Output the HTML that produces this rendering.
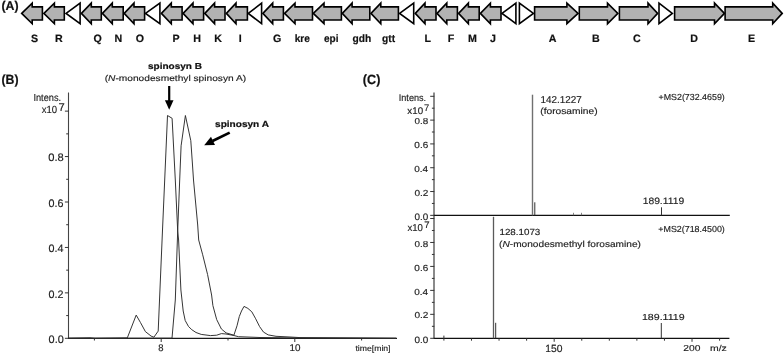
<!DOCTYPE html>
<html><head><meta charset="utf-8"><style>
html,body{margin:0;padding:0;background:#fff;}
body{width:784px;height:353px;overflow:hidden;}
svg{display:block;font-family:"Liberation Sans", sans-serif;text-rendering:geometricPrecision;}
</style></head><body>
<div style="will-change:transform;width:784px;height:353px"><svg width="784" height="353" viewBox="0 0 784 353">
<rect width="784" height="353" fill="#fff"/>
<polygon points="21.70,13.40 32.20,3.10 32.20,6.90 42.40,6.90 42.40,20.00 32.20,20.00 32.20,23.70" fill="#b2b2b2" stroke="#000" stroke-width="1.6" stroke-linejoin="miter"/>
<polygon points="43.90,13.40 54.40,3.10 54.40,6.90 64.30,6.90 64.30,20.00 54.40,20.00 54.40,23.70" fill="#b2b2b2" stroke="#000" stroke-width="1.6" stroke-linejoin="miter"/>
<polygon points="66.10,13.40 80.10,3.10 80.10,23.70" fill="#fff" stroke="#000" stroke-width="1.6" stroke-linejoin="miter"/>
<polygon points="81.40,13.40 91.30,3.10 91.30,6.90 101.30,6.90 101.30,20.00 91.30,20.00 91.30,23.70" fill="#b2b2b2" stroke="#000" stroke-width="1.6" stroke-linejoin="miter"/>
<polygon points="102.40,13.40 112.30,3.10 112.30,6.90 123.20,6.90 123.20,20.00 112.30,20.00 112.30,23.70" fill="#b2b2b2" stroke="#000" stroke-width="1.6" stroke-linejoin="miter"/>
<polygon points="124.20,13.40 134.00,3.10 134.00,6.90 144.60,6.90 144.60,20.00 134.00,20.00 134.00,23.70" fill="#b2b2b2" stroke="#000" stroke-width="1.6" stroke-linejoin="miter"/>
<polygon points="145.50,13.40 159.90,3.10 159.90,23.70" fill="#fff" stroke="#000" stroke-width="1.6" stroke-linejoin="miter"/>
<polygon points="161.40,13.40 171.30,3.10 171.30,6.90 182.10,6.90 182.10,20.00 171.30,20.00 171.30,23.70" fill="#b2b2b2" stroke="#000" stroke-width="1.6" stroke-linejoin="miter"/>
<polygon points="183.10,13.40 193.00,3.10 193.00,6.90 203.60,6.90 203.60,20.00 193.00,20.00 193.00,23.70" fill="#b2b2b2" stroke="#000" stroke-width="1.6" stroke-linejoin="miter"/>
<polygon points="204.80,13.40 214.60,3.10 214.60,6.90 225.00,6.90 225.00,20.00 214.60,20.00 214.60,23.70" fill="#b2b2b2" stroke="#000" stroke-width="1.6" stroke-linejoin="miter"/>
<polygon points="226.40,13.40 236.00,3.10 236.00,6.90 247.40,6.90 247.40,20.00 236.00,20.00 236.00,23.70" fill="#b2b2b2" stroke="#000" stroke-width="1.6" stroke-linejoin="miter"/>
<polygon points="248.30,13.40 261.60,3.10 261.60,23.70" fill="#fff" stroke="#000" stroke-width="1.6" stroke-linejoin="miter"/>
<polygon points="262.90,13.40 272.70,3.10 272.70,6.90 283.40,6.90 283.40,20.00 272.70,20.00 272.70,23.70" fill="#b2b2b2" stroke="#000" stroke-width="1.6" stroke-linejoin="miter"/>
<polygon points="284.60,13.40 295.00,3.10 295.00,6.90 312.50,6.90 312.50,20.00 295.00,20.00 295.00,23.70" fill="#b2b2b2" stroke="#000" stroke-width="1.6" stroke-linejoin="miter"/>
<polygon points="313.30,13.40 324.00,3.10 324.00,6.90 341.40,6.90 341.40,20.00 324.00,20.00 324.00,23.70" fill="#b2b2b2" stroke="#000" stroke-width="1.6" stroke-linejoin="miter"/>
<polygon points="342.30,13.40 352.10,3.10 352.10,6.90 369.80,6.90 369.80,20.00 352.10,20.00 352.10,23.70" fill="#b2b2b2" stroke="#000" stroke-width="1.6" stroke-linejoin="miter"/>
<polygon points="371.00,13.40 380.80,3.10 380.80,6.90 398.40,6.90 398.40,20.00 380.80,20.00 380.80,23.70" fill="#b2b2b2" stroke="#000" stroke-width="1.6" stroke-linejoin="miter"/>
<polygon points="399.60,13.40 413.70,3.10 413.70,23.70" fill="#fff" stroke="#000" stroke-width="1.6" stroke-linejoin="miter"/>
<polygon points="415.30,13.40 425.00,3.10 425.00,6.90 436.00,6.90 436.00,20.00 425.00,20.00 425.00,23.70" fill="#b2b2b2" stroke="#000" stroke-width="1.6" stroke-linejoin="miter"/>
<polygon points="437.00,13.40 446.80,3.10 446.80,6.90 457.40,6.90 457.40,20.00 446.80,20.00 446.80,23.70" fill="#b2b2b2" stroke="#000" stroke-width="1.6" stroke-linejoin="miter"/>
<polygon points="458.60,13.40 468.40,3.10 468.40,6.90 479.20,6.90 479.20,20.00 468.40,20.00 468.40,23.70" fill="#b2b2b2" stroke="#000" stroke-width="1.6" stroke-linejoin="miter"/>
<polygon points="480.40,13.40 490.40,3.10 490.40,6.90 501.00,6.90 501.00,20.00 490.40,20.00 490.40,23.70" fill="#b2b2b2" stroke="#000" stroke-width="1.6" stroke-linejoin="miter"/>
<polygon points="502.00,13.40 515.90,3.10 515.90,23.70" fill="#fff" stroke="#000" stroke-width="1.6" stroke-linejoin="miter"/>
<polygon points="533.40,13.40 519.40,3.10 519.40,23.70" fill="#fff" stroke="#000" stroke-width="1.6" stroke-linejoin="miter"/>
<polygon points="578.00,13.40 566.90,3.10 566.90,6.90 534.60,6.90 534.60,20.00 566.90,20.00 566.90,23.70" fill="#b2b2b2" stroke="#000" stroke-width="1.6" stroke-linejoin="miter"/>
<polygon points="617.80,13.40 607.50,3.10 607.50,6.90 579.30,6.90 579.30,20.00 607.50,20.00 607.50,23.70" fill="#b2b2b2" stroke="#000" stroke-width="1.6" stroke-linejoin="miter"/>
<polygon points="657.60,13.40 648.00,3.10 648.00,6.90 619.40,6.90 619.40,20.00 648.00,20.00 648.00,23.70" fill="#b2b2b2" stroke="#000" stroke-width="1.6" stroke-linejoin="miter"/>
<polygon points="672.30,13.40 659.00,3.10 659.00,23.70" fill="#fff" stroke="#000" stroke-width="1.6" stroke-linejoin="miter"/>
<polygon points="724.40,13.40 714.50,3.10 714.50,6.90 674.60,6.90 674.60,20.00 714.50,20.00 714.50,23.70" fill="#b2b2b2" stroke="#000" stroke-width="1.6" stroke-linejoin="miter"/>
<polygon points="782.20,13.40 772.70,3.10 772.70,6.90 725.10,6.90 725.10,20.00 772.70,20.00 772.70,23.70" fill="#b2b2b2" stroke="#000" stroke-width="1.6" stroke-linejoin="miter"/>
<line x1="68.5" y1="92.5" x2="68.5" y2="338.8" stroke="#444" stroke-width="1.1"/>
<line x1="68.0" y1="338.3" x2="397" y2="338.3" stroke="#1a1a1a" stroke-width="1.2"/>
<line x1="64.90" y1="338.30" x2="68.50" y2="338.30" stroke="#333" stroke-width="1"/>
<line x1="66.20" y1="315.58" x2="68.50" y2="315.58" stroke="#333" stroke-width="1"/>
<line x1="64.90" y1="292.87" x2="68.50" y2="292.87" stroke="#333" stroke-width="1"/>
<line x1="66.20" y1="270.15" x2="68.50" y2="270.15" stroke="#333" stroke-width="1"/>
<line x1="64.90" y1="247.44" x2="68.50" y2="247.44" stroke="#333" stroke-width="1"/>
<line x1="66.20" y1="224.72" x2="68.50" y2="224.72" stroke="#333" stroke-width="1"/>
<line x1="64.90" y1="202.00" x2="68.50" y2="202.00" stroke="#333" stroke-width="1"/>
<line x1="66.20" y1="179.29" x2="68.50" y2="179.29" stroke="#333" stroke-width="1"/>
<line x1="64.90" y1="156.57" x2="68.50" y2="156.57" stroke="#333" stroke-width="1"/>
<line x1="66.20" y1="133.86" x2="68.50" y2="133.86" stroke="#333" stroke-width="1"/>
<line x1="64.90" y1="111.14" x2="68.50" y2="111.14" stroke="#333" stroke-width="1"/>
<line x1="94.40" y1="338.3" x2="94.40" y2="340.50" stroke="#333" stroke-width="1"/>
<line x1="161.20" y1="338.3" x2="161.20" y2="342.00" stroke="#333" stroke-width="1"/>
<line x1="228.00" y1="338.3" x2="228.00" y2="340.50" stroke="#333" stroke-width="1"/>
<line x1="294.80" y1="338.3" x2="294.80" y2="342.00" stroke="#333" stroke-width="1"/>
<line x1="361.60" y1="338.3" x2="361.60" y2="340.50" stroke="#333" stroke-width="1"/>
<polyline points="68.50,338.20 90.00,337.80 95.00,338.30 127.30,337.90 136.20,315.10 140.50,322.60 145.40,331.60 151.10,336.10 153.90,337.20 158.20,331.10 162.50,230.00 164.70,180.00 167.50,115.50 172.10,118.30 175.30,180.00 177.70,231.00 178.60,240.00 180.90,290.00 183.20,311.00 185.20,320.50 188.50,326.50 191.80,329.70 196.00,332.50 201.20,334.40 210.50,335.60 216.70,335.20 221.40,333.60 226.00,334.00 233.90,335.50 238.50,336.70 260.00,337.50 300.00,338.00 396.00,338.30" fill="none" stroke="#2a2a2a" stroke-width="0.95" stroke-linejoin="round"/>
<polyline points="68.50,338.30 172.00,338.20 175.30,300.00 177.70,231.00 179.70,180.00 180.30,165.00 181.10,145.80 185.40,115.50 190.80,140.70 192.50,165.00 193.50,180.00 197.70,225.00 198.70,240.00 202.70,254.80 207.60,274.60 211.60,295.00 212.90,305.60 216.70,319.60 221.40,329.00 226.10,332.90 233.90,335.20 237.00,325.80 239.30,316.50 241.50,311.00 244.00,306.40 247.90,308.40 251.80,311.80 255.70,318.80 259.60,326.60 263.50,332.10 268.20,334.90 276.00,336.30 290.00,337.00 300.00,337.60 396.00,338.30" fill="none" stroke="#2a2a2a" stroke-width="0.95" stroke-linejoin="round"/>
<line x1="169.2" y1="86" x2="169.2" y2="101" stroke="#000" stroke-width="2.2"/>
<polygon points="164.9,100.3 173.5,100.3 169.2,109.7" fill="#000"/>
<line x1="229.70" y1="132.60" x2="212.54" y2="141.08" stroke="#000" stroke-width="2.7"/>
<polygon points="204.20,145.20 214.98,144.89 210.99,136.82" fill="#000"/>
<line x1="434.0" y1="92.4" x2="434.0" y2="338.8" stroke="#8a8a8a" stroke-width="2"/>
<line x1="433.8" y1="215.35" x2="729.8" y2="215.35" stroke="#111" stroke-width="1.4"/>
<line x1="433.8" y1="338.3" x2="729.4" y2="338.3" stroke="#111" stroke-width="1.2"/>
<line x1="430.20" y1="215.35" x2="434.30" y2="215.35" stroke="#333" stroke-width="1"/>
<line x1="431.90" y1="203.44" x2="434.30" y2="203.44" stroke="#333" stroke-width="1"/>
<line x1="430.20" y1="191.54" x2="434.30" y2="191.54" stroke="#333" stroke-width="1"/>
<line x1="431.90" y1="179.63" x2="434.30" y2="179.63" stroke="#333" stroke-width="1"/>
<line x1="430.20" y1="167.73" x2="434.30" y2="167.73" stroke="#333" stroke-width="1"/>
<line x1="431.90" y1="155.82" x2="434.30" y2="155.82" stroke="#333" stroke-width="1"/>
<line x1="430.20" y1="143.92" x2="434.30" y2="143.92" stroke="#333" stroke-width="1"/>
<line x1="431.90" y1="132.01" x2="434.30" y2="132.01" stroke="#333" stroke-width="1"/>
<line x1="430.20" y1="120.11" x2="434.30" y2="120.11" stroke="#333" stroke-width="1"/>
<line x1="431.90" y1="108.20" x2="434.30" y2="108.20" stroke="#333" stroke-width="1"/>
<line x1="430.20" y1="96.30" x2="434.30" y2="96.30" stroke="#333" stroke-width="1"/>
<line x1="430.20" y1="338.30" x2="434.30" y2="338.30" stroke="#333" stroke-width="1"/>
<line x1="431.90" y1="326.32" x2="434.30" y2="326.32" stroke="#333" stroke-width="1"/>
<line x1="430.20" y1="314.34" x2="434.30" y2="314.34" stroke="#333" stroke-width="1"/>
<line x1="431.90" y1="302.36" x2="434.30" y2="302.36" stroke="#333" stroke-width="1"/>
<line x1="430.20" y1="290.38" x2="434.30" y2="290.38" stroke="#333" stroke-width="1"/>
<line x1="431.90" y1="278.40" x2="434.30" y2="278.40" stroke="#333" stroke-width="1"/>
<line x1="430.20" y1="266.42" x2="434.30" y2="266.42" stroke="#333" stroke-width="1"/>
<line x1="431.90" y1="254.44" x2="434.30" y2="254.44" stroke="#333" stroke-width="1"/>
<line x1="430.20" y1="242.46" x2="434.30" y2="242.46" stroke="#333" stroke-width="1"/>
<line x1="431.90" y1="230.48" x2="434.30" y2="230.48" stroke="#333" stroke-width="1"/>
<line x1="430.20" y1="218.50" x2="434.30" y2="218.50" stroke="#333" stroke-width="1"/>
<line x1="443.90" y1="335.6" x2="443.90" y2="340.6" stroke="#333" stroke-width="1"/>
<line x1="471.47" y1="338.3" x2="471.47" y2="340.70" stroke="#333" stroke-width="1"/>
<line x1="499.04" y1="338.3" x2="499.04" y2="340.70" stroke="#333" stroke-width="1"/>
<line x1="526.61" y1="338.3" x2="526.61" y2="340.70" stroke="#333" stroke-width="1"/>
<line x1="554.18" y1="338.3" x2="554.18" y2="341.80" stroke="#333" stroke-width="1"/>
<line x1="581.75" y1="338.3" x2="581.75" y2="340.70" stroke="#333" stroke-width="1"/>
<line x1="609.32" y1="338.3" x2="609.32" y2="340.70" stroke="#333" stroke-width="1"/>
<line x1="636.89" y1="338.3" x2="636.89" y2="340.70" stroke="#333" stroke-width="1"/>
<line x1="664.46" y1="338.3" x2="664.46" y2="340.70" stroke="#333" stroke-width="1"/>
<line x1="692.03" y1="338.3" x2="692.03" y2="341.80" stroke="#333" stroke-width="1"/>
<line x1="719.60" y1="338.3" x2="719.60" y2="340.70" stroke="#333" stroke-width="1"/>
<line x1="532.5" y1="94.7" x2="532.5" y2="215.35" stroke="#707070" stroke-width="1.4"/>
<line x1="534.8" y1="202.3" x2="534.8" y2="215.35" stroke="#333" stroke-width="1"/>
<line x1="573.5" y1="212.8" x2="573.5" y2="215.35" stroke="#666" stroke-width="0.8"/>
<line x1="581.5" y1="212.8" x2="581.5" y2="215.35" stroke="#666" stroke-width="0.8"/>
<line x1="661.5" y1="207.3" x2="661.5" y2="215.35" stroke="#333" stroke-width="1"/>
<line x1="493.5" y1="216.8" x2="493.5" y2="338.3" stroke="#5a5a5a" stroke-width="1.3"/>
<line x1="495.7" y1="322.8" x2="495.7" y2="338.3" stroke="#333" stroke-width="1"/>
<line x1="661.3" y1="323" x2="661.3" y2="338.3" stroke="#333" stroke-width="1"/>
<text id="pA" x="1.41" y="10.00" font-size="12.65" fill="#111" font-weight="bold" stroke="#111" stroke-width="0.2" textLength="17.14" lengthAdjust="spacingAndGlyphs">(A)</text>
<text id="pB" x="1.49" y="84.00" font-size="13.29" fill="#111" font-weight="bold" stroke="#111" stroke-width="0.2" textLength="17.05" lengthAdjust="spacingAndGlyphs">(B)</text>
<text id="pC" x="362.83" y="84.00" font-size="13.31" fill="#111" font-weight="bold" stroke="#111" stroke-width="0.2" textLength="17.54" lengthAdjust="spacingAndGlyphs">(C)</text>
<text id="bInt" x="33.43" y="101.00" font-size="10.09" fill="#222" stroke="#222" stroke-width="0.15" textLength="27.73" lengthAdjust="spacingAndGlyphs">Intens.</text>
<text id="bx10" x="41.72" y="113.00" font-size="10.33" fill="#222" stroke="#222" stroke-width="0.15" textLength="15.40" lengthAdjust="spacingAndGlyphs">x10</text>
<text id="b7" x="58.42" y="111.00" font-size="11.24" fill="#222" stroke="#222" stroke-width="0.15">7</text>
<text id="bl0.8" x="48.31" y="161.00" font-size="10.92" fill="#222" stroke="#222" stroke-width="0.15" textLength="15.53" lengthAdjust="spacingAndGlyphs">0.8</text>
<text id="bl0.6" x="48.55" y="207.00" font-size="10.98" fill="#222" stroke="#222" stroke-width="0.15" textLength="14.95" lengthAdjust="spacingAndGlyphs">0.6</text>
<text id="bl0.4" x="48.58" y="252.00" font-size="10.89" fill="#222" stroke="#222" stroke-width="0.15" textLength="14.93" lengthAdjust="spacingAndGlyphs">0.4</text>
<text id="bl0.2" x="48.56" y="298.00" font-size="10.88" fill="#222" stroke="#222" stroke-width="0.15" textLength="14.98" lengthAdjust="spacingAndGlyphs">0.2</text>
<text id="bl0.0" x="48.59" y="343.00" font-size="10.83" fill="#222" stroke="#222" stroke-width="0.15" textLength="15.18" lengthAdjust="spacingAndGlyphs">0.0</text>
<text id="b8" x="158.36" y="351.00" font-size="9.47" fill="#222" stroke="#222" stroke-width="0.15">8</text>
<text id="b10" x="289.60" y="351.00" font-size="9.80" fill="#222" stroke="#222" stroke-width="0.15" textLength="10.97" lengthAdjust="spacingAndGlyphs">10</text>
<text id="btime" x="355.46" y="351.00" font-size="7.95" fill="#222" stroke="#222" stroke-width="0.15" textLength="35.07" lengthAdjust="spacingAndGlyphs">time[min]</text>
<text id="spB" x="148.06" y="69.00" font-size="8.68" fill="#111" font-weight="bold" stroke="#111" stroke-width="0.2" textLength="53.91" lengthAdjust="spacingAndGlyphs">spinosyn B</text>
<text id="spBn" x="104.69" y="81.00" font-size="8.46" fill="#222" stroke="#222" stroke-width="0.15" textLength="141.45" lengthAdjust="spacingAndGlyphs">(<tspan font-style="italic">N</tspan>-monodesmethyl spinosyn A)</text>
<text id="spA" x="215.06" y="127.00" font-size="8.87" fill="#111" font-weight="bold" stroke="#111" stroke-width="0.2" textLength="53.92" lengthAdjust="spacingAndGlyphs">spinosyn A</text>
<text id="cInt" x="398.75" y="101.00" font-size="9.77" fill="#222" stroke="#222" stroke-width="0.15" textLength="27.35" lengthAdjust="spacingAndGlyphs">Intens.</text>
<text id="cx10" x="407.38" y="114.00" font-size="9.68" fill="#222" stroke="#222" stroke-width="0.15" textLength="15.69" lengthAdjust="spacingAndGlyphs">x10</text>
<text id="c7" x="423.98" y="111.00" font-size="9.34" fill="#222" stroke="#222" stroke-width="0.15">7</text>
<text id="cx10b" x="407.44" y="231.00" font-size="9.93" fill="#222" stroke="#222" stroke-width="0.15" textLength="15.52" lengthAdjust="spacingAndGlyphs">x10</text>
<text id="c7b" x="424.24" y="228.00" font-size="9.56" fill="#222" stroke="#222" stroke-width="0.15">7</text>
<text id="cu0.8" x="414.46" y="124.00" font-size="8.66" fill="#222" stroke="#222" stroke-width="0.15" textLength="13.69" lengthAdjust="spacingAndGlyphs">0.8</text>
<text id="cu0.6" x="414.36" y="148.00" font-size="8.96" fill="#222" stroke="#222" stroke-width="0.15" textLength="13.90" lengthAdjust="spacingAndGlyphs">0.6</text>
<text id="cu0.4" x="414.27" y="172.00" font-size="8.75" fill="#222" stroke="#222" stroke-width="0.15" textLength="13.88" lengthAdjust="spacingAndGlyphs">0.4</text>
<text id="cu0.2" x="414.42" y="196.00" font-size="8.69" fill="#222" stroke="#222" stroke-width="0.15" textLength="14.02" lengthAdjust="spacingAndGlyphs">0.2</text>
<text id="cu0.0" x="414.51" y="220.00" font-size="9.45" fill="#222" stroke="#222" stroke-width="0.15" textLength="13.73" lengthAdjust="spacingAndGlyphs">0.0</text>
<text id="cl0.8" x="414.46" y="247.00" font-size="8.66" fill="#222" stroke="#222" stroke-width="0.15" textLength="13.69" lengthAdjust="spacingAndGlyphs">0.8</text>
<text id="cl0.6" x="414.36" y="271.00" font-size="8.96" fill="#222" stroke="#222" stroke-width="0.15" textLength="13.90" lengthAdjust="spacingAndGlyphs">0.6</text>
<text id="cl0.4" x="414.27" y="295.00" font-size="8.75" fill="#222" stroke="#222" stroke-width="0.15" textLength="13.88" lengthAdjust="spacingAndGlyphs">0.4</text>
<text id="cl0.2" x="414.42" y="318.00" font-size="8.69" fill="#222" stroke="#222" stroke-width="0.15" textLength="14.02" lengthAdjust="spacingAndGlyphs">0.2</text>
<text id="cl0.0" x="414.47" y="343.00" font-size="9.37" fill="#222" stroke="#222" stroke-width="0.15" textLength="13.74" lengthAdjust="spacingAndGlyphs">0.0</text>
<text id="m142" x="540.52" y="103.00" font-size="9.98" fill="#222" stroke="#222" stroke-width="0.15" textLength="41.31" lengthAdjust="spacingAndGlyphs">142.1227</text>
<text id="mforo" x="540.25" y="114.00" font-size="8.87" fill="#222" stroke="#222" stroke-width="0.15" textLength="57.34" lengthAdjust="spacingAndGlyphs">(forosamine)</text>
<text id="ms1" x="658.50" y="100.00" font-size="8.73" fill="#222" stroke="#222" stroke-width="0.15" textLength="66.30" lengthAdjust="spacingAndGlyphs">+MS2(732.4659)</text>
<text id="m189a" x="642.65" y="204.00" font-size="9.23" fill="#222" stroke="#222" stroke-width="0.15" textLength="41.56" lengthAdjust="spacingAndGlyphs">189.1119</text>
<text id="ms2" x="658.29" y="232.00" font-size="8.73" fill="#222" stroke="#222" stroke-width="0.15" textLength="66.52" lengthAdjust="spacingAndGlyphs">+MS2(718.4500)</text>
<text id="m128" x="499.46" y="235.00" font-size="8.84" fill="#222" stroke="#222" stroke-width="0.15" textLength="40.88" lengthAdjust="spacingAndGlyphs">128.1073</text>
<text id="mNforo" x="499.12" y="247.00" font-size="8.77" fill="#222" stroke="#222" stroke-width="0.15" textLength="141.79" lengthAdjust="spacingAndGlyphs">(<tspan font-style="italic">N</tspan>-monodesmethyl forosamine)</text>
<text id="m189b" x="641.97" y="320.00" font-size="8.75" fill="#222" stroke="#222" stroke-width="0.15" textLength="42.63" lengthAdjust="spacingAndGlyphs">189.1119</text>
<text id="x150" x="545.31" y="352.00" font-size="10.41" fill="#222" stroke="#222" stroke-width="0.15" textLength="17.28" lengthAdjust="spacingAndGlyphs">150</text>
<text id="x200" x="683.20" y="351.00" font-size="8.67" fill="#222" stroke="#222" stroke-width="0.15" textLength="17.18" lengthAdjust="spacingAndGlyphs">200</text>
<text id="xmz" x="710.04" y="351.00" font-size="8.38" fill="#222" stroke="#222" stroke-width="0.15" textLength="16.75" lengthAdjust="spacingAndGlyphs">m/z</text>
<text id="g_S" x="30.94" y="42.00" font-size="10.65" fill="#111" font-weight="bold" stroke="#111" stroke-width="0.2">S</text>
<text id="g_R" x="54.96" y="42.00" font-size="10.65" fill="#111" font-weight="bold" stroke="#111" stroke-width="0.2">R</text>
<text id="g_Q" x="93.43" y="42.00" font-size="10.65" fill="#111" font-weight="bold" stroke="#111" stroke-width="0.2">Q</text>
<text id="g_N" x="114.46" y="42.00" font-size="10.65" fill="#111" font-weight="bold" stroke="#111" stroke-width="0.2">N</text>
<text id="g_O" x="135.63" y="42.00" font-size="10.65" fill="#111" font-weight="bold" stroke="#111" stroke-width="0.2">O</text>
<text id="g_P" x="172.55" y="42.00" font-size="10.65" fill="#111" font-weight="bold" stroke="#111" stroke-width="0.2">P</text>
<text id="g_H" x="193.24" y="42.00" font-size="10.65" fill="#111" font-weight="bold" stroke="#111" stroke-width="0.2">H</text>
<text id="g_K" x="214.23" y="42.00" font-size="10.65" fill="#111" font-weight="bold" stroke="#111" stroke-width="0.2">K</text>
<text id="g_I" x="238.72" y="42.00" font-size="10.65" fill="#111" font-weight="bold" stroke="#111" stroke-width="0.2">I</text>
<text id="g_G" x="272.96" y="42.00" font-size="10.65" fill="#111" font-weight="bold" stroke="#111" stroke-width="0.2">G</text>
<text id="g_L" x="424.52" y="42.00" font-size="10.65" fill="#111" font-weight="bold" stroke="#111" stroke-width="0.2">L</text>
<text id="g_F" x="447.79" y="42.00" font-size="10.65" fill="#111" font-weight="bold" stroke="#111" stroke-width="0.2">F</text>
<text id="g_M" x="468.08" y="42.00" font-size="10.65" fill="#111" font-weight="bold" stroke="#111" stroke-width="0.2">M</text>
<text id="g_J" x="490.03" y="42.00" font-size="10.65" fill="#111" font-weight="bold" stroke="#111" stroke-width="0.2">J</text>
<text id="g_A" x="548.74" y="42.00" font-size="10.65" fill="#111" font-weight="bold" stroke="#111" stroke-width="0.2">A</text>
<text id="g_B" x="592.06" y="42.00" font-size="10.65" fill="#111" font-weight="bold" stroke="#111" stroke-width="0.2">B</text>
<text id="g_C" x="633.02" y="42.00" font-size="10.65" fill="#111" font-weight="bold" stroke="#111" stroke-width="0.2">C</text>
<text id="g_D" x="690.18" y="42.00" font-size="10.65" fill="#111" font-weight="bold" stroke="#111" stroke-width="0.2">D</text>
<text id="g_E" x="748.00" y="42.00" font-size="10.65" fill="#111" font-weight="bold" stroke="#111" stroke-width="0.2">E</text>
<text id="g_kre" x="294.71" y="42.00" font-size="10.65" fill="#111" font-weight="bold" stroke="#111" stroke-width="0.2" textLength="15.17" lengthAdjust="spacingAndGlyphs">kre</text>
<text id="g_epi" x="324.02" y="42.00" font-size="10.65" fill="#111" font-weight="bold" stroke="#111" stroke-width="0.2" textLength="14.50" lengthAdjust="spacingAndGlyphs">epi</text>
<text id="g_gdh" x="352.56" y="42.00" font-size="10.65" fill="#111" font-weight="bold" stroke="#111" stroke-width="0.2" textLength="18.69" lengthAdjust="spacingAndGlyphs">gdh</text>
<text id="g_gtt" x="382.08" y="42.00" font-size="10.65" fill="#111" font-weight="bold" stroke="#111" stroke-width="0.2" textLength="13.03" lengthAdjust="spacingAndGlyphs">gtt</text>
</svg></div>
</body></html>
